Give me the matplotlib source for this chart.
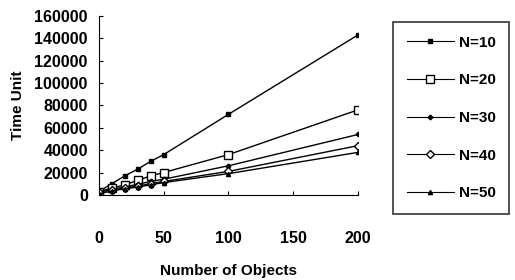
import matplotlib
matplotlib.use("Agg")
import matplotlib.pyplot as plt

plt.rcParams['font.family'] = ['Liberation Sans', 'DejaVu Sans']
plt.rcParams['font.weight'] = 'bold'

objects = [0, 10, 20, 30, 40, 50, 100, 200]
n10 = [3000, 10000, 17000, 23000, 30000, 36000, 72000, 143000]
n20 = [3000, 6000, 9000, 13000, 17000, 20000, 36000, 76000]
n30 = [2500, 5000, 7000, 9500, 12000, 14000, 26000, 54000]
n40 = [2500, 4500, 6000, 8000, 10000, 12000, 21000, 44000]
n50 = [1000, 3500, 5500, 7000, 9000, 11000, 19000, 38000]
labels = ['N=10', 'N=20', 'N=30', 'N=40', 'N=50']
yticks = [0, 20000, 40000, 60000, 80000, 100000, 120000, 140000, 160000]
xticks = [0, 50, 100, 150, 200]

fig = plt.figure(figsize=(5.15, 2.8), dpi=100)
ax = fig.add_axes([0.192, 0.304, 0.503, 0.639])

series = [n10, n20, n30, n40, n50]
markers = ['s', 's', 'P', 'D', '^']
sizes = [3, 6, 3, 4, 3]
faces = ['black', 'white', 'black', 'white', 'black']
for ys, lab, m, ms, fc in zip(series, labels, markers, sizes, faces):
    ax.plot(objects, ys, color='black', lw=1, marker=m, ms=ms,
            mfc=fc, mec='black', mew=1, label=lab)

ax.set_xlim(0, 200)
ax.set_ylim(0, 160000)
ax.set_xticks(xticks)
ax.set_yticks(yticks)
ax.spines['top'].set_visible(False)
ax.spines['right'].set_visible(False)
ax.tick_params(direction='in', length=3, labelsize=11.5)
ax.tick_params(axis='x', pad=26)
ax.tick_params(axis='y', pad=8)
ax.set_xlabel('Number of Objects', fontsize=11, fontweight='bold', labelpad=13)
ax.set_ylabel('Time Unit', fontsize=11, fontweight='bold', labelpad=7)

leg = fig.legend(loc='upper left', bbox_to_anchor=(393 / 515, 1 - 22 / 280),
                 fontsize=11, frameon=True, fancybox=False, handlelength=3.1,
                 labelspacing=1.55, borderpad=0.9, handletextpad=0.3,
                 borderaxespad=0)
leg.get_frame().set_edgecolor('black')
leg.get_frame().set_linewidth(1.2)
for line in leg.get_lines():
    line.set_linewidth(0.8)

fig.savefig('out.png', dpi=100)
